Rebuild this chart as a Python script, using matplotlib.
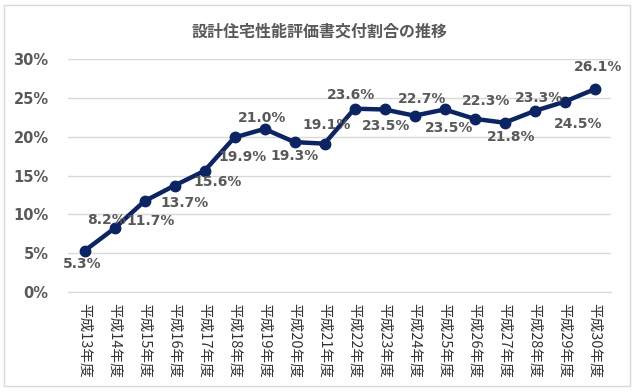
import matplotlib
matplotlib.use("Agg")
import matplotlib.pyplot as plt
from matplotlib.patches import Rectangle
from matplotlib.ticker import FuncFormatter

plt.rcParams['font.family'] = ['Noto Sans CJK JP', 'DejaVu Sans']

categories = ["平成13年度", "平成14年度", "平成15年度", "平成16年度", "平成17年度", "平成18年度",
              "平成19年度", "平成20年度", "平成21年度", "平成22年度", "平成23年度", "平成24年度",
              "平成25年度", "平成26年度", "平成27年度", "平成28年度", "平成29年度", "平成30年度"]
values = [5.3, 8.2, 11.7, 13.7, 15.6, 19.9, 21.0, 19.3, 19.1, 23.6, 23.5, 22.7,
          23.5, 22.3, 21.8, 23.3, 24.5, 26.1]
yticks = [0, 5, 10, 15, 20, 25, 30]
title = "設計住宅性能評価書交付割合の推移"

# label offsets in pixels (dx, dy)
label_offsets = [(-2, -13), (-8, 8), (6, -20), (10, -17), (13, -11), (8, -20),
                 (-2, 11), (0, -14), (2, 19), (-4, 14), (2, -17), (8, 17),
                 (5, -19), (12, 18), (7, -14), (5, 13), (14, -22), (4, 22)]

W, H = 636, 392
fig = plt.figure(figsize=(W / 100, H / 100), dpi=100)
fig.patch.set_facecolor('white')
fig.patches.append(Rectangle((4 / W, 1 - 386 / H), 626 / W, 381 / H, transform=fig.transFigure,
                             fill=False, edgecolor='#d9d9d9', linewidth=1))

ax = fig.add_axes([68 / W, 1 - 292 / H, 543 / W, 233 / H])
x = list(range(len(categories)))
line_color = '#0d2463'
ax.plot(x, values, color=line_color, linewidth=3.2, marker='o', markersize=7.5,
        markerfacecolor=line_color, markeredgecolor=line_color, zorder=3)

ax.set_xlim(-0.55, len(categories) - 0.45)
ax.set_ylim(0, 30)
ax.set_yticks(yticks)
ax.yaxis.set_major_formatter(FuncFormatter(lambda v, p: f"{int(v)}%"))
ax.grid(axis='y', color='#d9d9d9', linewidth=1)
ax.set_axisbelow(True)
for s in ['top', 'right', 'left']:
    ax.spines[s].set_visible(False)
ax.spines['bottom'].set_color('#d9d9d9')
ax.tick_params(axis='both', length=0)
ax.tick_params(axis='y', pad=14)
ax.set_xticks(x)
ax.set_xticklabels(categories, rotation=-90, fontsize=10.5, color='#333333',
                   family=['Noto Sans CJK JP', 'DejaVu Sans'])
ax.tick_params(axis='x', pad=8)
for lab in ax.get_yticklabels():
    lab.set_fontfamily('DejaVu Sans')
    lab.set_fontweight('bold')
    lab.set_fontsize(10.5)
    lab.set_color('#595959')

for xi, v, (dx, dy) in zip(x, values, label_offsets):
    ax.annotate(f"{v:.1f}%", (xi, v), xytext=(dx, dy), textcoords='offset pixels',
                ha='center', va='center', fontsize=10, fontweight='bold',
                color='#595959', family='DejaVu Sans', zorder=4)

fig.text(320 / W, 1 - 32 / H, title, ha='center', va='center', fontsize=11.5,
         fontweight='bold', color='#595959')

fig.savefig('out.png', dpi=100, facecolor='white')
